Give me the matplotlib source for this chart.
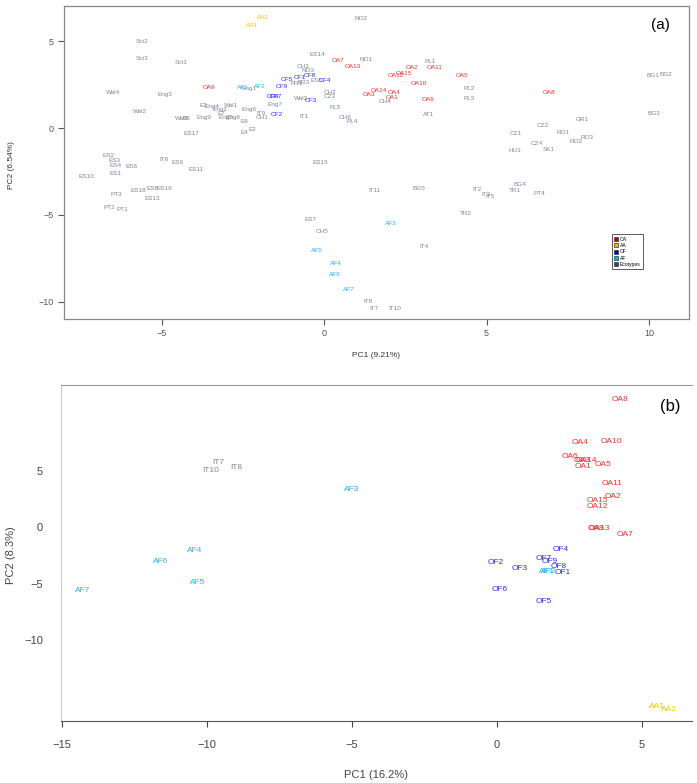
import matplotlib.pyplot as plt
from matplotlib.lines import Line2D

# ---- panel (a) : PCA with ecotypes ----
a_eco_lab = ["Sct2", "Sct3", "Sct1", "Wal4", "Eng3", "Wal2", "Eng1", "E3", "Eng4", "Eng2",
             "Wal1", "Wal5", "E5", "Eng9", "E7", "Eng5", "Eng8", "Eng6", "E6", "IT9",
             "CH1", "E4", "E2", "ES17", "Eng7", "NO2", "ES14", "NO1", "CH3", "NO3",
             "FR1", "FR3", "ES5", "Wal3", "CH2", "CZ3", "PL5", "IT1", "CH6", "PL4",
             "CH4", "PL1", "PL2", "PL3", "AT1", "BG1", "BG2", "BG3", "GR1", "CZ2",
             "CZ1", "RO1", "RO3", "RO2", "CZ4", "SK1", "HU1", "ES2", "ES3", "ES4",
             "ES6", "ES1", "ES10", "IT6", "ES9", "ES11", "PT3", "ES18", "ES8", "ES16",
             "ES13", "PT2", "PT1", "ES15", "IT11", "BG5", "IT2", "IT3", "IT5", "BG4",
             "TR1", "PT4", "TR2", "ES7", "CH5", "IT4", "IT8", "IT7", "IT10"]
a_eco_x = [-5.61, -5.59, -4.41, -6.48, -4.89, -5.65, -2.31, -3.72, -3.45, -3.20,
           -2.86, -4.37, -4.22, -3.68, -3.15, -3.02, -2.80, -2.30, -2.45, -1.93,
           -1.90, -2.46, -2.21, -4.07, -1.51, 1.13, -0.21, 1.29, -0.66, -0.49,
           -0.85, -0.64, -0.23, -0.72, 0.18, 0.18, 0.34, -0.62, 0.65, 0.87,
           1.88, 3.28, 4.48, 4.45, 3.22, 10.13, 10.52, 10.15, 7.96, 6.73,
           5.90, 7.36, 8.08, 7.75, 6.54, 6.91, 5.88, -6.62, -6.46, -6.41,
           -5.92, -6.42, -7.30, -4.92, -4.51, -3.95, -6.40, -5.72, -5.28, -4.91,
           -5.28, -6.61, -6.21, -0.10, 1.55, 2.93, 4.72, 4.98, 5.11, 6.03,
           5.88, 6.62, 4.36, -0.41, -0.06, 3.08, 1.35, 1.53, 2.18]
a_eco_y = [5.01, 3.99, 3.80, 2.07, 1.96, 0.98, 2.28, 1.30, 1.24, 1.04,
           1.30, 0.56, 0.56, 0.62, 0.86, 0.63, 0.59, 1.05, 0.36, 0.82,
           0.58, -0.23, -0.07, -0.29, 1.38, 6.32, 4.22, 3.96, 3.52, 3.29,
           2.54, 2.63, 2.71, 1.71, 2.06, 1.84, 1.21, 0.69, 0.63, 0.36,
           1.52, 3.82, 2.29, 1.71, 0.79, 3.05, 3.10, 0.85, 0.52, 0.13,
           -0.31, -0.27, -0.52, -0.75, -0.88, -1.22, -1.27, -1.56, -1.88, -2.15,
           -2.19, -2.63, -2.81, -1.84, -1.98, -2.38, -3.80, -3.61, -3.46, -3.46,
           -4.07, -4.55, -4.69, -1.98, -3.59, -3.46, -3.52, -3.82, -3.96, -3.27,
           -3.57, -3.76, -4.94, -5.29, -5.98, -6.80, -9.97, -10.42, -10.42]

a_oa_lab = ["OA9", "OA7", "OA13", "OA2", "OA11", "OA12", "OA15", "OA5", "OA10", "OA14",
            "OA4", "OA3", "OA1", "OA6", "OA8"]
a_oa_x = [-3.53, 0.44, 0.90, 2.70, 3.42, 2.22, 2.46, 4.26, 2.93, 1.70,
          2.16, 1.39, 2.11, 3.19, 6.91]
a_oa_y = [2.36, 3.90, 3.57, 3.48, 3.50, 3.05, 3.15, 3.05, 2.54, 2.15,
          2.03, 1.94, 1.77, 1.65, 2.07]

a_aa_lab = ["AA2", "AA1"]
a_aa_x = [-1.87, -2.22]
a_aa_y = [6.38, 5.90]

a_of_lab = ["OF5", "OF1", "OF8", "OF4", "OF9", "OF6", "OF7", "OF3", "OF2"]
a_of_x = [-1.15, -0.74, -0.43, 0.03, -1.29, -1.56, -1.48, -0.41, -1.46]
a_of_y = [2.81, 2.92, 3.05, 2.71, 2.42, 1.83, 1.83, 1.60, 0.79]

a_af_lab = ["AF1", "AF2", "AF3", "AF5", "AF4", "AF6", "AF7"]
a_af_x = [-2.50, -1.97, 2.05, -0.21, 0.37, 0.32, 0.75]
a_af_y = [2.36, 2.39, -5.49, -7.03, -7.80, -8.46, -9.30]

# ---- panel (b) : PCA of the wild / cultivated accessions ----
b_oa_lab = ["OA8", "OA4", "OA10", "OA6", "OA14", "OA3", "OA1", "OA5", "OA11", "OA2",
            "OA15", "OA12", "OA9", "OA13", "OA7"]
b_oa_x = [4.24, 2.86, 3.96, 2.52, 3.09, 2.93, 2.96, 3.67, 3.98, 4.01,
          3.46, 3.46, 3.41, 3.52, 4.41]
b_oa_y = [11.33, 7.46, 7.55, 6.22, 5.93, 5.93, 5.40, 5.49, 3.81, 2.68,
          2.33, 1.80, -0.13, -0.13, -0.65]

b_it_lab = ["IT7", "IT10", "IT8"]
b_it_x = [-9.61, -9.87, -9.00]
b_it_y = [5.69, 4.96, 5.28]

b_af_lab = ["AF3", "AF4", "AF6", "AF5", "AF7", "AF1", "AF2"]
b_af_x = [-5.03, -10.41, -11.60, -10.33, -14.29, 1.72, 1.79]
b_af_y = [3.36, -2.12, -3.07, -4.93, -5.58, -3.96, -3.96]

b_of_lab = ["OF4", "OF7", "OF9", "OF8", "OF1", "OF2", "OF3", "OF6", "OF5"]
b_of_x = [2.21, 1.62, 1.83, 2.11, 2.27, -0.03, 0.79, 0.10, 1.60]
b_of_y = [-1.97, -2.83, -3.07, -3.51, -4.01, -3.16, -3.65, -5.49, -6.55]

b_aa_lab = ["AA1", "AA2"]
b_aa_x = [5.51, 5.91]
b_aa_y = [-15.90, -16.19]

c_oa = "#ff2a2a"
c_aa = "#f7c600"
c_of = "#2b2bff"
c_af = "#22b4ff"
c_eco = "#7b8797"

plt.rcParams['font.family'] = ['Liberation Sans', 'DejaVu Sans']

W, H = 697, 783
fig = plt.figure(figsize=(W / 100, H / 100), dpi=100)


def box(l, t, r, b):
    return [l / W, 1 - b / H, (r - l) / W, (b - t) / H]


def labels(ax, labs, xs, ys, col, fs):
    for s, x, y in zip(labs, xs, ys):
        ax.text(x, y, s, color=col, fontsize=fs, ha="center", va="center")


# panel (a)
ax1 = fig.add_axes(box(64, 6, 689, 319))
ax1.set_xlim(-8.0, 11.23)
ax1.set_ylim(-11.0, 7.03)
fs_a = 4.6
labels(ax1, a_eco_lab, a_eco_x, a_eco_y, c_eco, fs_a)
labels(ax1, a_aa_lab, a_aa_x, a_aa_y, c_aa, fs_a)
labels(ax1, a_af_lab, a_af_x, a_af_y, c_af, fs_a)
labels(ax1, a_of_lab, a_of_x, a_of_y, c_of, fs_a)
labels(ax1, a_oa_lab, a_oa_x, a_oa_y, c_oa, fs_a)
ax1.set_xticks([-5, 0, 5, 10])
ax1.set_yticks([-10, -5, 0, 5])
ax1.tick_params(labelsize=6.5, colors="#555555", length=4, width=0.8)
for sp in ax1.spines.values():
    sp.set_color("#888888")
    sp.set_linewidth(0.9)
ax1.set_xlabel("PC1 (9.21%)", fontsize=6, color="#333333", labelpad=10)
fig.text(12 / W, 1 - 165 / H, "PC2 (6.54%)", fontsize=6, color="#333333",
         rotation=90, ha="center", va="center")
ax1.text(0.955, 0.94, "(a)", transform=ax1.transAxes, fontsize=11,
         ha="center", va="center")

handles = [Line2D([], [], ls="", marker="s", ms=3, mfc=c, mec="#333333", mew=0.5)
           for c in ["#cc0000", "#e8c000", "#0000cc", "#00b8e0", "#3a4a60"]]
leg = ax1.legend(handles, ["OA", "AA", "OF", "AF", "Ecotypes"], loc="upper right",
                 bbox_to_anchor=(0.931, 0.278), fontsize=3.6, frameon=True,
                 fancybox=False, edgecolor="#333333", handlelength=0.8,
                 handletextpad=0.4, borderpad=0.5, labelspacing=0.25)
leg.get_frame().set_linewidth(0.7)

# panel (b)
ax2 = fig.add_axes(box(61, 385, 692, 721))
ax2.set_xlim(-15.03, 6.72)
ax2.set_ylim(-17.17, 12.57)
fs_b = 6
labels(ax2, b_it_lab, b_it_x, b_it_y, c_eco, fs_b)
labels(ax2, b_aa_lab, b_aa_x, b_aa_y, c_aa, fs_b)
labels(ax2, b_af_lab, b_af_x, b_af_y, c_af, fs_b)
labels(ax2, b_of_lab, b_of_x, b_of_y, c_of, fs_b)
labels(ax2, b_oa_lab, b_oa_x, b_oa_y, c_oa, fs_b)
ax2.set_xticks([-15, -10, -5, 0, 5])
ax2.set_yticks([-10, -5, 0, 5])
ax2.tick_params(labelsize=8, colors="#444444", length=4, width=0.8)
ax2.tick_params(axis="x", pad=10)
ax2.tick_params(axis="y", length=0, pad=13)
ax2.spines["right"].set_visible(False)
ax2.spines["top"].set_color("#999999")
ax2.spines["left"].set_color("#cccccc")
ax2.spines["bottom"].set_color("#555555")
ax2.set_xlabel("PC1 (16.2%)", fontsize=8, color="#444444", labelpad=14)
fig.text(11 / W, 1 - 555 / H, "PC2 (8.3%)", fontsize=8, color="#444444",
         rotation=90, ha="center", va="center")
ax2.text(0.965, 0.935, "(b)", transform=ax2.transAxes, fontsize=12,
         ha="center", va="center")

fig.savefig("out.png", dpi=100)
